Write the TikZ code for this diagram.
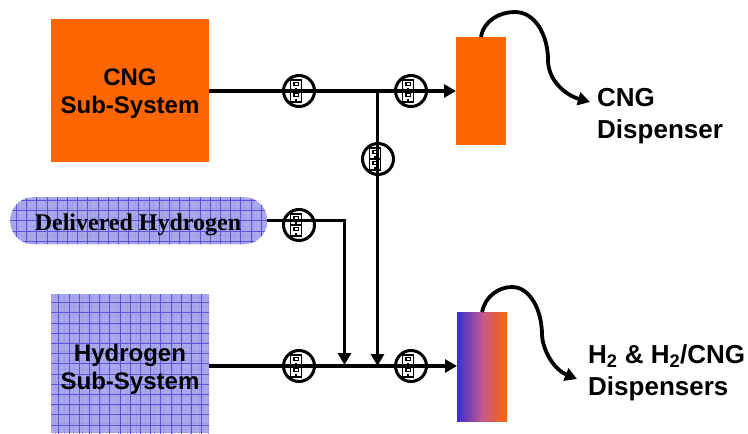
\documentclass[tikz,border=0pt]{standalone}
\usepackage{fontspec}
\setmainfont{Liberation Sans}
\newfontfamily\serifbold{Liberation Serif}
\usetikzlibrary{arrows.meta}
\definecolor{orng}{HTML}{FF6600}
\definecolor{hbase}{HTML}{A8A8EA}
\definecolor{hfine}{HTML}{9E9EE4}
\definecolor{hline}{HTML}{5A54DC}
\definecolor{gblue}{HTML}{3A30D0}
\definecolor{gmid}{HTML}{C4588F}
\newcommand{\cabinet}[1]{%
  \fill[white,draw=black,line width=1.4pt] (-8.5,#1-5.5) rectangle (2.5,#1+5.5);
  \fill[black] (-6,#1-4) rectangle (0,#1+0.5);
  \fill[white] (-4.5,#1-2.8) rectangle (-1.5,#1-0.6);
  \fill[black] (-4,#1+2.2) rectangle (-2,#1+4);
}
\tikzset{
  x=1pt,y=-1pt,
  flow/.style={line width=3.8pt,draw=black},
  flowtip/.style={flow,-{Triangle[length=12pt,width=13pt]}},
  curvetip/.style={line width=3.8pt,draw=black,-{Triangle[length=12pt,width=13pt]}},
  label/.style={font=\bfseries\fontsize{26}{32.5}\selectfont,align=left,inner sep=0pt,anchor=west},
  boxtext/.style={font=\bfseries\fontsize{24}{28.5}\selectfont,align=center,inner sep=0pt},
  solidbox/.style={fill=orng,draw=none,inner sep=0pt,anchor=north west},
  hatched/.style={fill=hbase,draw=none,inner sep=0pt,anchor=north west,
    path picture={
      \foreach \k in {-100,-97,...,100}{
        \draw[hfine,line width=0.6pt] (\k*3,-400) -- (\k*3,400);
        \draw[hfine,line width=0.6pt] (-400,\k*3) -- (400,\k*3);
      }
      \foreach \k in {-40,...,40}{
        \draw[hline,line width=0.7pt] (10.2*\k,-400) -- (10.2*\k,400);
        \draw[hline,line width=0.7pt] (-400,10.2*\k) -- (400,10.2*\k);
      }
    }},
  valve/.style={circle,draw=black,line width=3pt,fill=white,minimum size=31pt,inner sep=0pt,
    path picture={\cabinet{-5.5}\cabinet{5.5}}}
}
\begin{document}
\begin{tikzpicture}
\useasboundingbox (0,0) rectangle (748,434);
% sources
\node[solidbox,minimum width=158pt,minimum height=143pt] (cng) at (51,19) {};
\node[hatched,minimum width=158pt,minimum height=139pt] (hyd) at (51,294) {};
\node[hatched,rounded corners=23pt,minimum width=257pt,minimum height=47pt] (del) at (10,197) {};
\node[boxtext] (cngt) at (130,93.5) {CNG\\Sub-System};
\node[boxtext] (hydt) at (130,369.5) {Hydrogen\\Sub-System};
\node[inner sep=0pt,font=\serifbold\bfseries\fontsize{24}{28}\selectfont] (delt) at (138,224.5) {Delivered Hydrogen};
% dispensers
\node[solidbox,minimum width=50pt,minimum height=108pt] (cd) at (456,37) {};
\node[inner sep=0pt,anchor=north west,minimum width=50pt,minimum height=109pt,left color=gblue,right color=orng,middle color=gmid] (hd) at (457,312) {};
% valves
\node[valve] (v1) at (299,91) {};
\node[valve] (v2) at (411,91) {};
\node[valve] (v3) at (378,159) {};
\node[valve] (v4) at (299,225) {};
\node[valve] (v5) at (299,366) {};
\node[valve] (v6) at (411,366) {};
% junctions
\coordinate (j1) at (377.5,91);
\coordinate (j2) at (377.5,366);
\coordinate (j3) at (344.5,220.5);
\coordinate (j4) at (344.5,365);
% connectors
\draw[flowtip] (cng.east |- j1) -- (cd.west |- j1);
\draw[flowtip] (hyd.east |- j2) -- (hd.west |- j2);
\draw[flowtip] (j1) -- (j2);
\draw[flowtip] (del.east |- j3) -- (j3) -- (j4);
% outputs
\node[label] (lc) at (597,116) {CNG\\Dispenser};
\node[label] (lh) at (588,373) {H\textsubscript{2} \& H\textsubscript{2}/CNG\\Dispensers};
\coordinate (tc) at (590,102);
\coordinate (th) at (577,379);
\draw[curvetip] (481,37) .. controls (484,20) and (500,12) .. (515,12) .. controls (535,12) and (548,35) .. (548,60) .. controls (548,80) and (565,95) .. (tc);
\draw[curvetip] (482,312) .. controls (485,297) and (498,287) .. (512,287) .. controls (530,287) and (542,310) .. (542,335) .. controls (543,352) and (555,370) .. (th);
\end{tikzpicture}
\end{document}
